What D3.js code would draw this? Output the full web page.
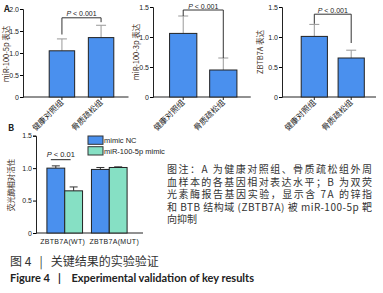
<!DOCTYPE html>
<html>
<head>
<meta charset="utf-8">
<script src="https://cdn.jsdelivr.net/npm/d3@7"></script>
<style>
  body { margin: 0; background: #fff; }
  text { font-family: "Noto Sans CJK SC", "Noto Sans", sans-serif; fill: #222; }
  .tick text { font-size: 7px; font-family: "Liberation Sans", sans-serif; }
  .ylab { font-size: 7.5px; fill: #3a2a22; }
</style>
</head>
<body>
<svg id="fig" width="383" height="293"></svg>
<script>
// panel A data
var groupsA = ["健康对照组", "骨质疏松组"];
var mir5pMean = [1.05, 1.35];
var mir5pSd = [0.27, 0.28];
var mir3pMean = [1.06, 0.45];
var mir3pSd = [0.29, 0.20];
var zbtbMean = [1.01, 0.65];
var zbtbSd = [0.20, 0.13];

// panel B data
var constructs = ["ZBTB7A(WT)", "ZBTB7A(MUT)"];
var seriesB = ["mimic NC", "miR-100-5p mimic"];
var ncMean = [1.00, 0.98];
var ncSd = [0.035, 0.03];
var mimicMean = [0.65, 1.01];
var mimicSd = [0.06, 0.01];

var ticksA1 = [0, 0.5, 1.0, 1.5, 2.0];
var ticksA = [0, 0.5, 1.0, 1.5];

var caption = [
  "图注：A 为健康对照组、骨质疏松组外周",
  "血样本的各基因相对表达水平；B 为双荧",
  "光素酶报告基因实验，显示含 7A 的锌指",
  "和 BTB 结构域 (ZBTB7A) 被 miR-100-5p 靶",
  "向抑制"
];

var blue = "#4a90ee", green = "#86e0c4";
var svg = d3.select("#fig");

function fmt(d) { return d === 0 ? "0" : d3.format(".1f")(d); }

// one small panel of part A
function drawPanelA(opt) {
  var y = d3.scaleLinear().domain([0, opt.ymax]).range([97, opt.top]);
  var x = d3.scaleBand().domain(groupsA).range(opt.xr).padding(opt.pad);
  var g = svg.append("g");

  g.append("g")
    .attr("transform", "translate(" + opt.ax + ",0)")
    .call(d3.axisLeft(y).tickValues(opt.ticks).tickFormat(fmt).tickSize(3).tickPadding(1))
    .call(function (s) { s.select(".domain").attr("stroke", "#222"); });

  g.append("line")
    .attr("x1", opt.ax).attr("x2", opt.xr[1] + 1)
    .attr("y1", y(0)).attr("y2", y(0))
    .attr("stroke", "#222");

  // error bars (behind bars)
  groupsA.forEach(function (k, i) {
    var cx = x(k) + x.bandwidth() / 2;
    var top = y(opt.mean[i] + opt.sd[i]);
    g.append("line").attr("x1", cx).attr("x2", cx)
      .attr("y1", y(opt.mean[i])).attr("y2", top).attr("stroke", "#999");
    g.append("line").attr("x1", cx - 5).attr("x2", cx + 5)
      .attr("y1", top).attr("y2", top).attr("stroke", "#999");
  });

  g.selectAll(".bar").data(opt.mean).enter().append("rect")
    .attr("class", "bar")
    .attr("x", function (d, i) { return x(groupsA[i]); })
    .attr("y", function (d) { return y(d); })
    .attr("width", x.bandwidth())
    .attr("height", function (d) { return y(0) - y(d); })
    .attr("fill", blue).attr("stroke", "#222").attr("stroke-width", 1);

  // x ticks + rotated labels
  groupsA.forEach(function (k) {
    var cx = x(k) + x.bandwidth() / 2;
    g.append("line").attr("x1", cx).attr("x2", cx)
      .attr("y1", 97).attr("y2", 100).attr("stroke", "#222");
    g.append("text")
      .attr("transform", "translate(" + (cx + 2) + ",103) rotate(-45)")
      .attr("text-anchor", "end")
      .style("font-size", "8px")
      .text(k);
  });

  // significance bracket
  var c1 = x(groupsA[0]) + x.bandwidth() / 2, c2 = x(groupsA[1]) + x.bandwidth() / 2;
  var yb = y(opt.br);
  g.append("path")
    .attr("d", "M" + c1 + "," + y(opt.brL) + "V" + yb + "H" + c2 + "V" + y(opt.brR))
    .attr("fill", "none").attr("stroke", "#333");
  g.append("text")
    .attr("x", (c1 + c2) / 2).attr("y", yb - 1.5)
    .attr("text-anchor", "middle")
    .style("font-size", "7px").style("font-family", "'Liberation Sans', sans-serif")
    .html("<tspan font-style='italic'>P</tspan> &lt; 0.001");

  g.append("text").attr("class", "ylab")
    .attr("transform", "translate(" + opt.lx + "," + opt.ly + ") rotate(-90)")
    .attr("text-anchor", "middle")
    .text(opt.label);
}

drawPanelA({ ymax: 2, top: 9, ticks: ticksA1, ax: 23, xr: [35.5, 127.5], pad: 0.35,
  mean: mir5pMean, sd: mir5pSd, br: 1.8, brL: 1.42, brR: 1.7,
  label: "miR-100-5p 表达", lx: 9, ly: 54 });
drawPanelA({ ymax: 1.5, top: 7, ticks: ticksA, ax: 153, xr: [156.75, 249.75], pad: 0.32,
  mean: mir3pMean, sd: mir3pSd, br: 1.45, brL: 1.35, brR: 0.65,
  label: "miR-100-3p 表达", lx: 139, ly: 52 });
drawPanelA({ ymax: 1.5, top: 7, ticks: ticksA, ax: 282, xr: [290.5, 375], pad: 0.29,
  mean: zbtbMean, sd: zbtbSd, br: 1.38, brL: 1.22, brR: 0.9,
  label: "ZBTB7A 表达", lx: 263, ly: 52 });

svg.append("text").attr("x", 4).attr("y", 12)
  .style("font-size", "9px").style("font-weight", "bold").text("A");

// panel B
var yB = d3.scaleLinear().domain([0, 1.5]).range([233, 135.7]);
var xB = d3.scaleBand().domain(constructs).range([38, 136]).padding(0.2);
var xs = d3.scaleBand().domain(seriesB).range([0, xB.bandwidth()]);
var gB = svg.append("g");

svg.append("text").attr("x", 8).attr("y", 131)
  .style("font-size", "9px").style("font-weight", "bold").text("B");

gB.append("g")
  .attr("transform", "translate(36,0)")
  .call(d3.axisLeft(yB).tickValues(ticksA).tickFormat(fmt).tickSize(3).tickPadding(1))
  .call(function (s) { s.select(".domain").attr("stroke", "#222"); });
gB.append("line").attr("x1", 36).attr("x2", 143)
  .attr("y1", yB(0)).attr("y2", yB(0)).attr("stroke", "#222");

var rowsB = constructs.map(function (c, i) {
  return [
    { c: c, s: seriesB[0], v: ncMean[i], e: ncSd[i], col: blue },
    { c: c, s: seriesB[1], v: mimicMean[i], e: mimicSd[i], col: green }
  ];
});
rowsB.forEach(function (row) {
  row.forEach(function (d) {
    var bx = xB(d.c) + xs(d.s), cx = bx + xs.bandwidth() / 2;
    var top = yB(d.v + d.e);
    gB.append("line").attr("x1", cx).attr("x2", cx)
      .attr("y1", yB(d.v)).attr("y2", top).attr("stroke", "#333");
    gB.append("line").attr("x1", cx - 4).attr("x2", cx + 4)
      .attr("y1", top).attr("y2", top).attr("stroke", "#333");
    gB.append("rect")
      .attr("x", bx).attr("y", yB(d.v))
      .attr("width", xs.bandwidth()).attr("height", yB(0) - yB(d.v))
      .attr("fill", d.col).attr("stroke", "#222");
  });
});

constructs.forEach(function (c, i) {
  var cx = xB(c) + xB.bandwidth() / 2 + (i === 0 ? -2 : 5);
  gB.append("text").attr("x", cx).attr("y", 244)
    .attr("text-anchor", "middle")
    .style("font-size", "7px").style("font-family", "'Liberation Sans', sans-serif")
    .style("letter-spacing", "0.3px")
    .text(c);
});

// P < 0.01 line
var p1 = xB(constructs[0]) + xs(seriesB[0]) + xs.bandwidth() / 2;
var p2 = xB(constructs[0]) + xs(seriesB[1]) + xs.bandwidth() / 2;
gB.append("line").attr("x1", p1 - 5).attr("x2", p2 - 3)
  .attr("y1", yB(1.13)).attr("y2", yB(1.13)).attr("stroke", "#222");
gB.append("text").attr("x", (p1 + p2) / 2 - 4).attr("y", yB(1.13) - 3)
  .attr("text-anchor", "middle")
  .style("font-size", "7.5px").style("font-family", "'Liberation Sans', sans-serif")
  .html("<tspan font-style='italic'>P</tspan> &lt; 0.01");

gB.append("text").attr("class", "ylab")
  .attr("transform", "translate(14,185) rotate(-90)")
  .attr("text-anchor", "middle").text("荧光酶相对活性");

// legend
seriesB.forEach(function (s, i) {
  var ly = 136 + i * 10.7;
  gB.append("rect").attr("x", 88).attr("y", ly).attr("width", 15).attr("height", 8.3)
    .attr("fill", i === 0 ? blue : green).attr("stroke", "#333");
  gB.append("text").attr("x", 104).attr("y", ly + 7)
    .style("font-size", "7.5px").style("font-family", "'Liberation Sans', sans-serif")
    .text(s);
});

// caption
svg.append("g").selectAll("text").data(caption).enter().append("text")
  .attr("x", 167)
  .attr("y", function (d, i) { return 173 + i * 12.5; })
  .attr("textLength", function (d, i) { return i < caption.length - 1 ? 205 : null; })
  .attr("lengthAdjust", "spacing")
  .style("font-size", "10px").style("fill", "#333")
  .text(function (d) { return d; });

// figure title
svg.append("text").attr("x", 10).attr("y", 266)
  .style("font-size", "12px").style("fill", "#333")
  .attr("xml:space", "preserve")
  .text("图 4   |   关键结果的实验验证");
svg.append("text").attr("x", 10).attr("y", 282)
  .style("font-family", "Lato, 'Open Sans', sans-serif")
  .style("font-size", "11px").style("font-weight", "bold").style("fill", "#222")
  .style("white-space", "pre")
  .text("Figure 4   |    Experimental validation of key results");
</script>
</body>
</html>
